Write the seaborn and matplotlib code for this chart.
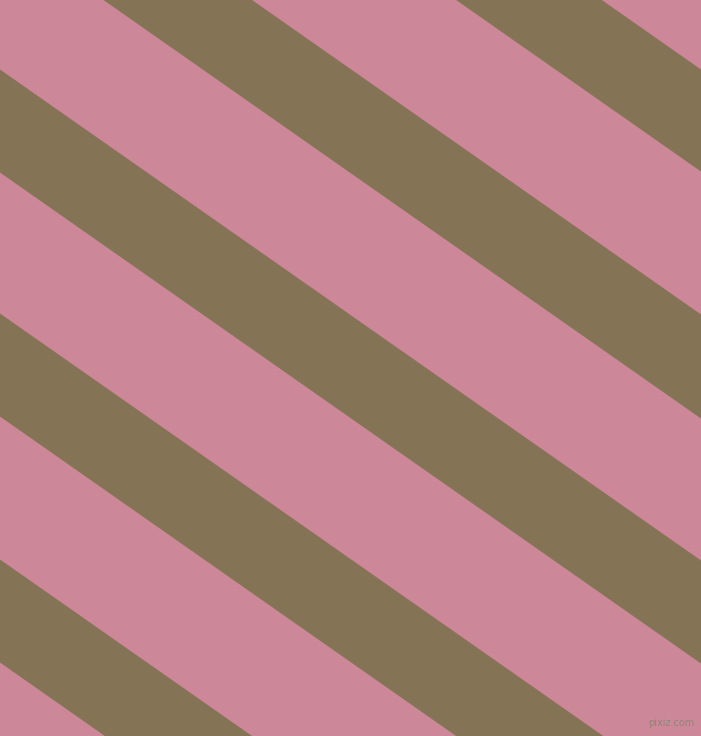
import numpy as np
import pandas as pd
import seaborn as sns
import matplotlib.pyplot as plt

# =========================
# DATA (pixel units)
# =========================
WIDTH = 701
HEIGHT = 736

# brown stripes: y of upper / lower edge at left (x=0) and right (x=701)
upper_left = [-421, -176, 70, 314, 560]
lower_left = [-320, -73, 172, 416, 662]
upper_right = [70, 315, 561, 805, 1051]
lower_right = [171, 418, 663, 907, 1153]

PINK = '#CC8899'
BROWN = '#857356'

# =========================
# PLOT
# =========================
sns.set_theme(style="white")

fig = plt.figure(figsize=(WIDTH / 100, HEIGHT / 100), dpi=100)
ax = fig.add_axes([0, 0, 1, 1])
ax.set_facecolor(PINK)
fig.patch.set_facecolor(PINK)

x_ends = [0, WIDTH]
for i in range(len(upper_left)):
    up = [upper_left[i], upper_right[i]]
    low = [lower_left[i], lower_right[i]]
    ax.fill_between(x_ends, up, low, color=BROWN, linewidth=0)
    edges = pd.DataFrame({'x': x_ends * 2,
                          'y': up + low,
                          'edge': ['up', 'up', 'low', 'low']})
    sns.lineplot(data=edges, x='x', y='y', units='edge', estimator=None,
                 color=BROWN, linewidth=0.6, ax=ax, legend=False)

# watermark
ax.text(694, 723, 'pixiz.com', color='#96827a', fontsize=7,
        ha='right', va='center')

ax.set_xlim(0, WIDTH)
ax.set_ylim(HEIGHT, 0)
ax.axis('off')

plt.savefig('out.png', dpi=100, facecolor=PINK)
